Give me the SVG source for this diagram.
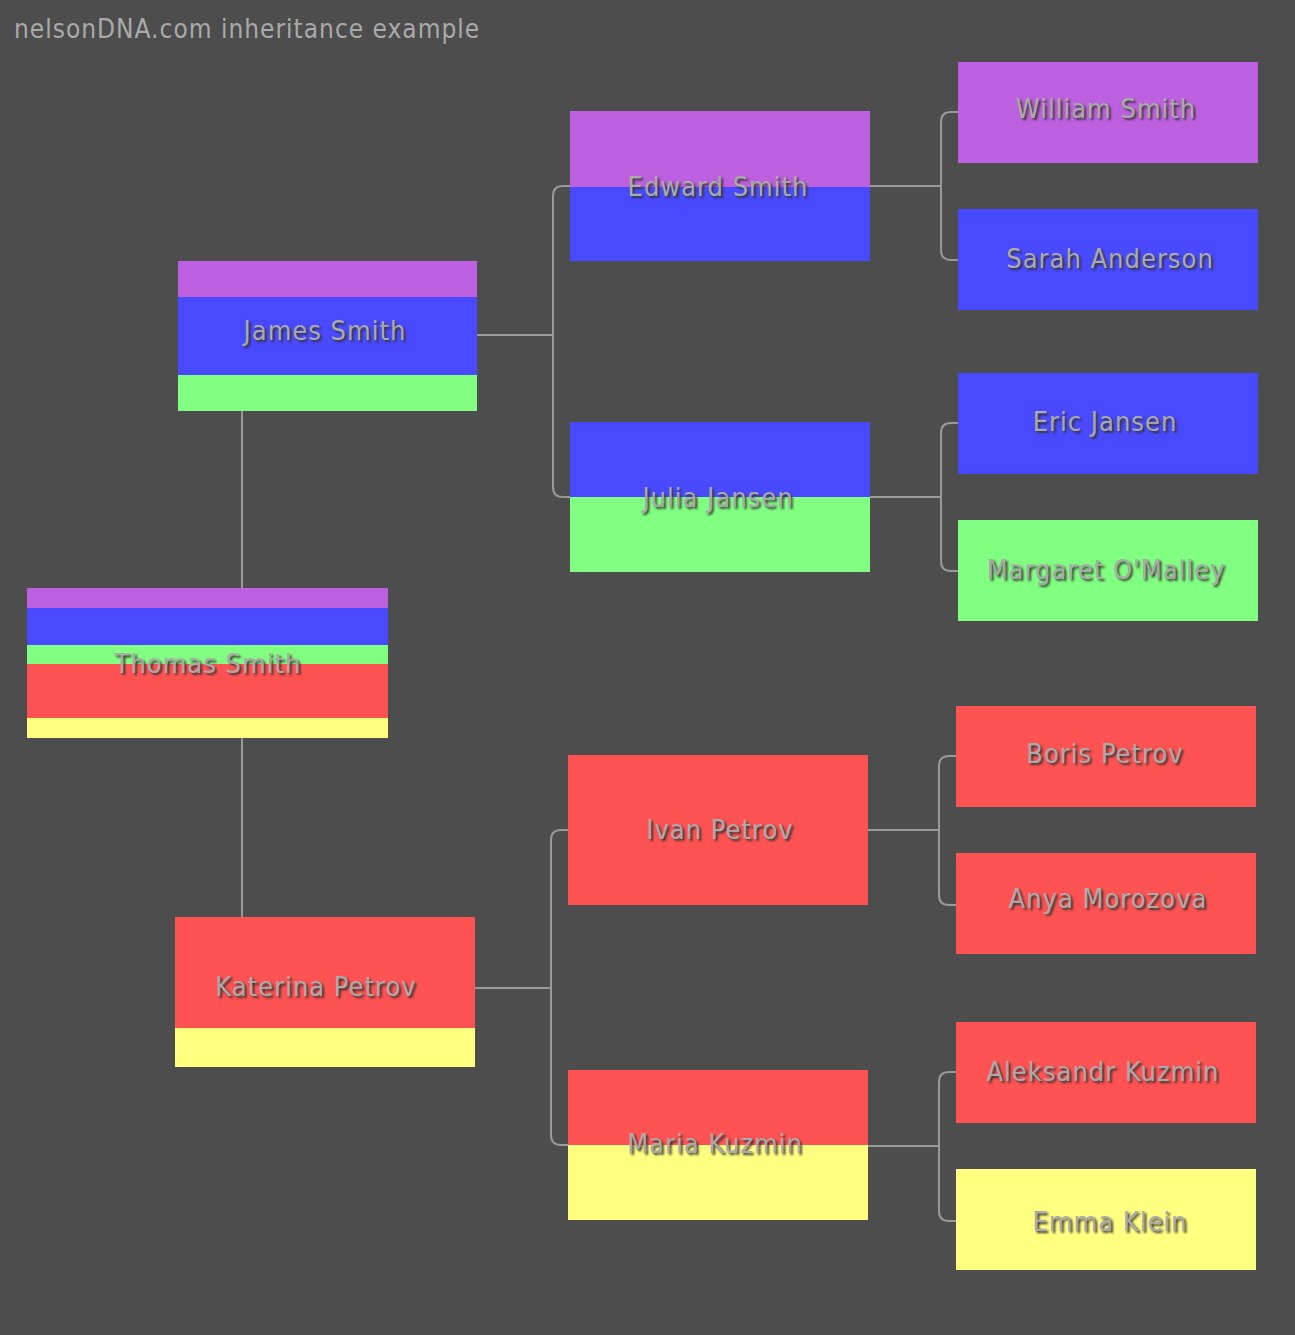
<svg xmlns="http://www.w3.org/2000/svg" width="1295" height="1335" viewBox="0 0 1295 1335">
<defs>
<style>
.p{fill:#bd60df}.b{fill:#4949ff}.g{fill:#80ff80}.r{fill:#ff5252}.y{fill:#ffff80}
.t{font-family:"DejaVu Sans Condensed","Liberation Sans",sans-serif;font-size:27px;fill:#aaaaaa;text-anchor:middle;dominant-baseline:central;letter-spacing:1px}
.s{fill:#333333;filter:url(#bl)}
.c{fill:none;stroke:#999999;stroke-width:2}
</style>
<filter id="bl"><feGaussianBlur stdDeviation="1"/></filter>
</defs>
<rect width="1295" height="1335" fill="#4d4d4d"/>
<text x="14" y="38" font-family="DejaVu Sans Condensed,Liberation Sans,sans-serif" font-size="26" fill="#aaaaaa" letter-spacing="1">nelsonDNA.com inheritance example</text>
<g id="connectors" class="c">
<path d="M242 411V588M242 738V917"/>
<path d="M477 335H553M570 186H563Q553 186 553 196V487Q553 497 563 497H570"/>
<path d="M870 186H941M958 112H951Q941 112 941 122V250Q941 260 951 260H958"/>
<path d="M870 497H941M958 423H951Q941 423 941 433V561Q941 571 951 571H958"/>
<path d="M475 988H551M568 830H561Q551 830 551 840V1135Q551 1145 561 1145H568"/>
<path d="M868 830H939M956 756H949Q939 756 939 766V895Q939 905 949 905H956"/>
<path d="M868 1146H939M956 1072H949Q939 1072 939 1082V1211Q939 1221 949 1221H956"/>
</g>
<g id="thomas"><rect class="p" x="27" y="588" width="361" height="20"/><rect class="b" x="27" y="608" width="361" height="37"/><rect class="g" x="27" y="645" width="361" height="19"/><rect class="r" x="27" y="664" width="361" height="54"/><rect class="y" x="27" y="718" width="361" height="20"/><text class="t s" x="210" y="665">Thomas Smith</text><text class="t" x="208" y="663">Thomas Smith</text></g>
<g id="james"><rect class="p" x="178" y="261" width="299" height="36"/><rect class="b" x="178" y="297" width="299" height="78"/><rect class="g" x="178" y="375" width="299" height="36"/><text class="t s" x="327" y="332">James Smith</text><text class="t" x="325" y="330">James Smith</text></g>
<g id="katerina"><rect class="r" x="175" y="917" width="300" height="111"/><rect class="y" x="175" y="1028" width="300" height="39"/><text class="t s" x="318" y="988">Katerina Petrov</text><text class="t" x="316" y="986">Katerina Petrov</text></g>
<g id="edward"><rect class="p" x="570" y="111" width="300" height="76"/><rect class="b" x="570" y="187" width="300" height="74"/><text class="t s" x="720" y="188">Edward Smith</text><text class="t" x="718" y="186">Edward Smith</text></g>
<g id="julia"><rect class="b" x="570" y="422" width="300" height="75"/><rect class="g" x="570" y="497" width="300" height="75"/><text class="t s" x="720" y="499">Julia Jansen</text><text class="t" x="718" y="497">Julia Jansen</text></g>
<g id="ivan"><rect class="r" x="568" y="755" width="300" height="150"/><text class="t s" x="722" y="831">Ivan Petrov</text><text class="t" x="720" y="829">Ivan Petrov</text></g>
<g id="maria"><rect class="r" x="568" y="1070" width="300" height="75"/><rect class="y" x="568" y="1145" width="300" height="75"/><text class="t s" x="717" y="1145">Maria Kuzmin</text><text class="t" x="715" y="1143">Maria Kuzmin</text></g>
<g id="william"><rect class="p" x="958" y="62" width="300" height="101"/><text class="t s" x="1108" y="110">William Smith</text><text class="t" x="1106" y="108">William Smith</text></g>
<g id="sarah"><rect class="b" x="958" y="209" width="300" height="101"/><text class="t s" x="1112" y="260">Sarah Anderson</text><text class="t" x="1110" y="258">Sarah Anderson</text></g>
<g id="eric"><rect class="b" x="958" y="373" width="300" height="101"/><text class="t s" x="1107" y="423">Eric Jansen</text><text class="t" x="1105" y="421">Eric Jansen</text></g>
<g id="margaret"><rect class="g" x="958" y="520" width="300" height="101"/><text class="t s" x="1108" y="571">Margaret O'Malley</text><text class="t" x="1106" y="569">Margaret O'Malley</text></g>
<g id="boris"><rect class="r" x="956" y="706" width="300" height="101"/><text class="t s" x="1107" y="755">Boris Petrov</text><text class="t" x="1105" y="753">Boris Petrov</text></g>
<g id="anya"><rect class="r" x="956" y="853" width="300" height="101"/><text class="t s" x="1110" y="900">Anya Morozova</text><text class="t" x="1108" y="898">Anya Morozova</text></g>
<g id="aleksandr"><rect class="r" x="956" y="1022" width="300" height="101"/><text class="t s" x="1105" y="1073">Aleksandr Kuzmin</text><text class="t" x="1103" y="1071">Aleksandr Kuzmin</text></g>
<g id="emma"><rect class="y" x="956" y="1169" width="300" height="101"/><text class="t s" x="1112" y="1223">Emma Klein</text><text class="t" x="1110" y="1221">Emma Klein</text></g>
</svg>
